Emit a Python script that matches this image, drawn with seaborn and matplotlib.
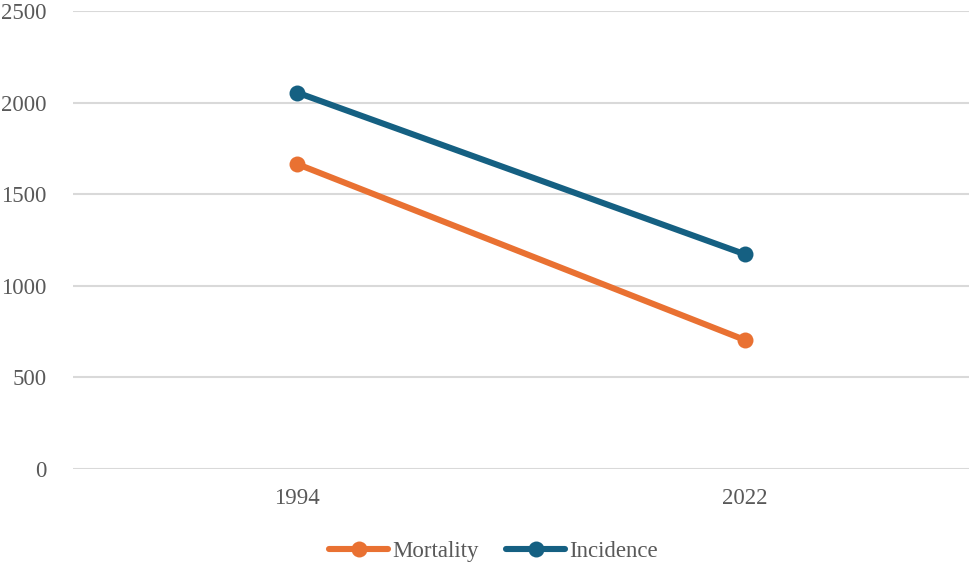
import pandas as pd
import matplotlib.pyplot as plt
import seaborn as sns

# Values
years = ["1994", "2022"]
mortality = [1665, 704]
incidence = [2055, 1172]
series_names = ["Mortality", "Incidence"]
colors = {"Mortality": "#E97132", "Incidence": "#156082"}

df = pd.DataFrame({
    "Year": years * 2,
    "Value": mortality + incidence,
    "Series": [series_names[0]] * 2 + [series_names[1]] * 2,
})

sns.set_style("white")
plt.rcParams['font.family'] = ['Liberation Serif', 'DejaVu Serif']

fig = plt.figure(figsize=(9.69, 5.69), dpi=100)
ax = fig.add_axes([73 / 969, 1 - 469 / 569, 1 - 73 / 969, 458 / 569])

sns.lineplot(data=df, x="Year", y="Value", hue="Series", palette=colors,
             marker="o", markersize=11.5, markeredgewidth=0, linewidth=4.4,
             sort=False, ax=ax, legend=True)

ax.set_ylim(0, 2500)
ax.set_yticks(range(0, 2501, 500))
ax.set_xlim(-0.5, 1.5)
ax.yaxis.grid(True, color="#d9d9d9", linewidth=1.5)
ax.set_axisbelow(True)
for s in ax.spines.values():
    s.set_visible(False)
ax.set_xlabel("")
ax.set_ylabel("")
ax.tick_params(axis="both", length=0, labelsize=16.5, colors="#595959")
ax.tick_params(axis="y", pad=19)
ax.tick_params(axis="x", pad=14)

handles, labels = ax.get_legend_handles_labels()
ax.legend(handles, labels, loc="center", bbox_to_anchor=(0.469, -0.18),
          ncol=2, frameon=False, fontsize=16.5, labelcolor="#595959",
          handlelength=2.6, handletextpad=0.15, columnspacing=1.2)

fig.savefig("out.png", dpi=100)
